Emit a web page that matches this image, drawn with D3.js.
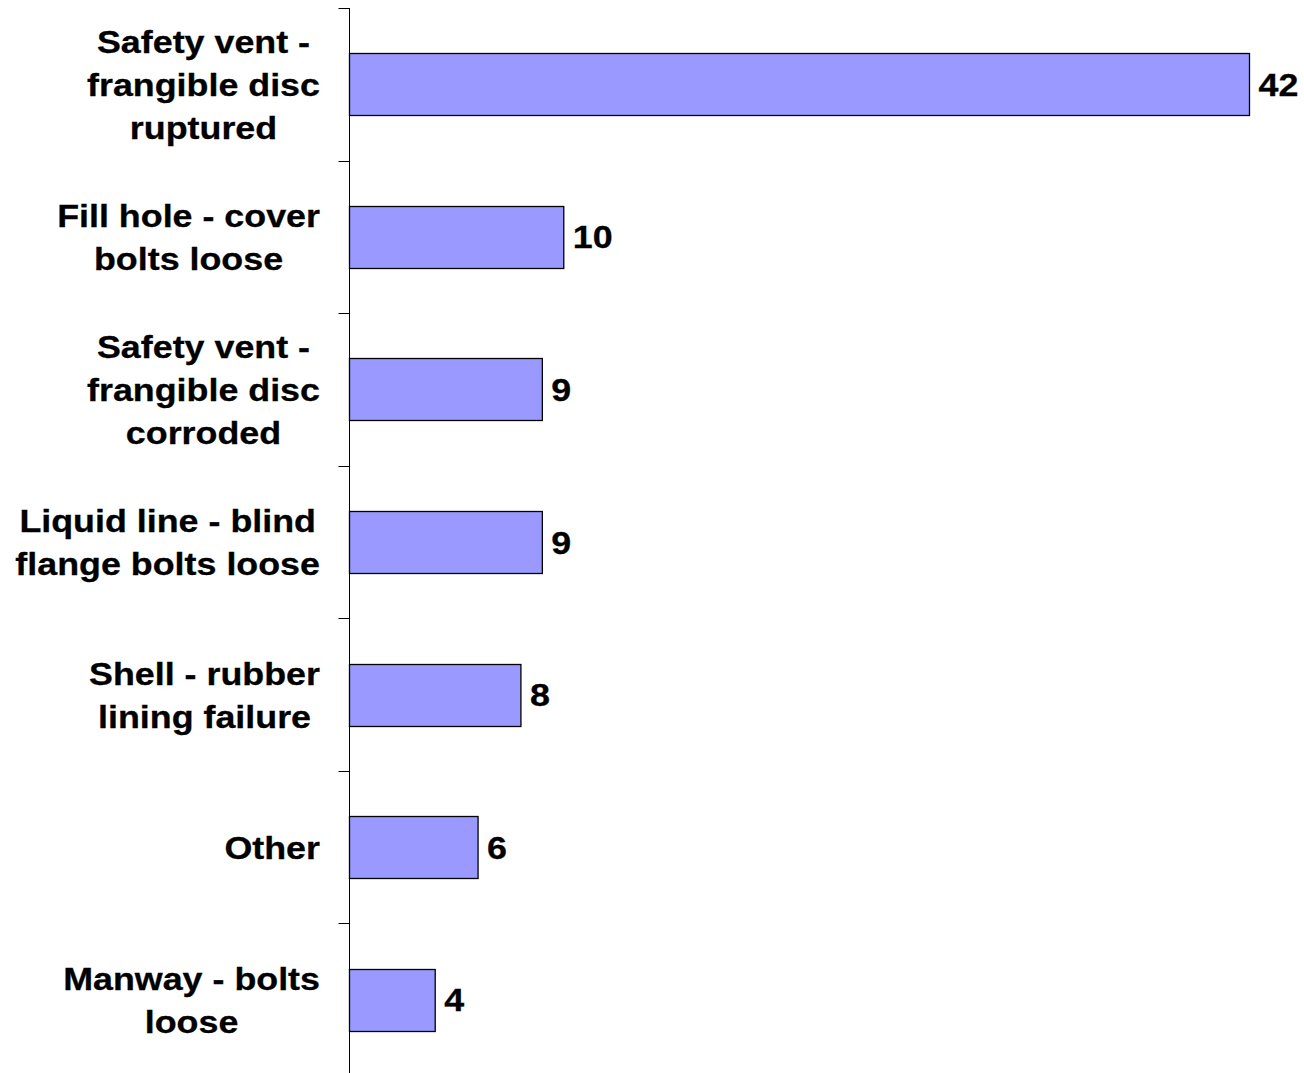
<!DOCTYPE html>
<html>
<head>
<meta charset="utf-8">
<script src="https://cdn.jsdelivr.net/npm/d3@7"></script>
<style>
  html, body { margin: 0; padding: 0; background: #fff; }
  svg { display: block; }
  text { font-family: "Liberation Sans", Arial, sans-serif; font-weight: bold; fill: #000; }
</style>
</head>
<body>
<svg id="chart" width="1304" height="1073"></svg>
<script>
const categories = [
  ["Safety vent -", "frangible disc", "ruptured"],
  ["Fill hole - cover", "bolts loose"],
  ["Safety vent -", "frangible disc", "corroded"],
  ["Liquid line - blind", "flange bolts loose"],
  ["Shell - rubber", "lining failure"],
  ["Other"],
  ["Manway - bolts", "loose"]
];
const values = [42, 10, 9, 9, 8, 6, 4];
const valueLabels = ["42", "10", "9", "9", "8", "6", "4"];

const svg = d3.select("#chart");
const axisX = 349.5;
const labelRight = 320;
const fontSize = 32;
const sx = 1.12;
const lineH = 43;

const idx = d3.range(categories.length);
const y = d3.scaleBand().domain(idx).range([8, 1076]).paddingInner(0.593).paddingOuter(0.2965);
const x = d3.scaleLinear().domain([0, 42]).range([axisX, 1249.5]);

// bars
svg.append("g").selectAll("rect").data(values).join("rect")
  .attr("x", axisX)
  .attr("y", (d, i) => Math.round(y(i)) + 0.5)
  .attr("width", d => x(d) - axisX)
  .attr("height", Math.round(y.bandwidth()))
  .attr("fill", "#9999FF")
  .attr("stroke", "#000")
  .attr("stroke-width", 1.3);

// axis line and ticks
const step = y.step();
const tickYs = d3.range(categories.length + 1).map(i => 8 + i * step);
svg.append("line").attr("x1", axisX).attr("x2", axisX).attr("y1", 8).attr("y2", 1073)
  .attr("stroke", "#000").attr("stroke-width", 1);
svg.append("g").selectAll("line").data(tickYs).join("line")
  .attr("x1", axisX - 11).attr("x2", axisX)
  .attr("y1", d => Math.round(d) + 0.5).attr("y2", d => Math.round(d) + 0.5)
  .attr("stroke", "#000").attr("stroke-width", 1);

// category labels
const labG = svg.append("g");
categories.forEach((lines, i) => {
  const cy = y(i) + y.bandwidth() / 2;
  const g = labG.append("g");
  const t = g.append("text")
    .attr("text-anchor", "middle")
    .style("font-size", fontSize + "px")
    .attr("stroke", "#000").attr("stroke-width", 0.3);
  const n = lines.length;
  lines.forEach((ln, k) => {
    t.append("tspan")
      .attr("x", 0)
      .attr("y", cy + (k - (n - 1) / 2) * lineH)
      .attr("dy", "0.36em")
      .text(ln);
  });
  const w = t.node().getBBox().width * sx;
  const cx = labelRight - w / 2;
  g.attr("transform", `translate(${cx},0) scale(${sx},1)`);
});

// value labels
svg.append("g").selectAll("g").data(values).join("g")
  .attr("transform", (d, i) => `translate(${x(d) + 9},${y(i) + y.bandwidth() / 2}) scale(${sx},1)`)
  .append("text")
  .attr("dy", "0.36em")
  .attr("stroke", "#000").attr("stroke-width", 0.3)
  .style("font-size", fontSize + "px")
  .text((d, i) => valueLabels[i]);
</script>
</body>
</html>
